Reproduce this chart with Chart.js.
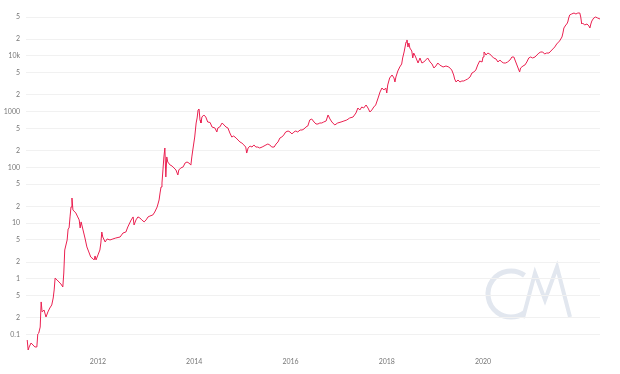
<!DOCTYPE html>
<html>
<head>
<meta charset="utf-8">
<script src="https://cdn.jsdelivr.net/npm/chart.js"></script>
<style>
    body { margin: 0; background: #fff; }
    #wrap { width: 620px; height: 374px; }
</style>
</head>
<body>
<div id="wrap"><canvas id="chart" width="620" height="374"></canvas></div>
<script>
// ===============================
// Data
// ===============================
const dates = [
    2010.53, 2010.55, 2010.57, 2010.61, 2010.65, 2010.69, 2010.73, 2010.75, 2010.77, 2010.80,
    2010.82, 2010.84, 2010.88, 2010.92, 2010.96, 2011.00, 2011.04, 2011.07, 2011.09, 2011.11,
    2011.15, 2011.19, 2011.23, 2011.27, 2011.29, 2011.31, 2011.36, 2011.38, 2011.40, 2011.42,
    2011.44, 2011.46, 2011.48, 2011.50, 2011.54, 2011.58, 2011.61, 2011.63, 2011.65, 2011.69,
    2011.73, 2011.77, 2011.81, 2011.85, 2011.90, 2011.92, 2011.94, 2011.96, 2012.00, 2012.04,
    2012.06, 2012.08, 2012.10, 2012.15, 2012.19, 2012.25, 2012.31, 2012.37, 2012.46, 2012.52,
    2012.58, 2012.62, 2012.69, 2012.73, 2012.75, 2012.79, 2012.83, 2012.87, 2012.91, 2012.96,
    2013.00, 2013.04, 2013.08, 2013.14, 2013.18, 2013.23, 2013.27, 2013.29, 2013.31, 2013.33,
    2013.35, 2013.37, 2013.39, 2013.41, 2013.43, 2013.45, 2013.50, 2013.54, 2013.58, 2013.62,
    2013.66, 2013.68, 2013.72, 2013.77, 2013.81, 2013.85, 2013.89, 2013.93, 2013.95, 2013.97,
    2014.01, 2014.04, 2014.06, 2014.08, 2014.10, 2014.12, 2014.14, 2014.16, 2014.20, 2014.24,
    2014.28, 2014.33, 2014.37, 2014.43, 2014.47, 2014.49, 2014.53, 2014.58, 2014.62, 2014.66,
    2014.70, 2014.74, 2014.78, 2014.82, 2014.87, 2014.91, 2014.95, 2014.99, 2015.03, 2015.07,
    2015.09, 2015.12, 2015.16, 2015.20, 2015.24, 2015.28, 2015.32, 2015.36, 2015.41, 2015.45,
    2015.49, 2015.53, 2015.57, 2015.61, 2015.66, 2015.70, 2015.74, 2015.78, 2015.82, 2015.86,
    2015.90, 2015.95, 2015.99, 2016.03, 2016.07, 2016.11, 2016.15, 2016.20, 2016.24, 2016.28,
    2016.32, 2016.36, 2016.40, 2016.44, 2016.49, 2016.53, 2016.57, 2016.61, 2016.65, 2016.69,
    2016.74, 2016.78, 2016.82, 2016.86, 2016.92, 2016.98, 2017.05, 2017.11, 2017.17, 2017.23,
    2017.30, 2017.36, 2017.40, 2017.44, 2017.48, 2017.52, 2017.57, 2017.61, 2017.65, 2017.69,
    2017.73, 2017.77, 2017.82, 2017.86, 2017.90, 2017.94, 2017.98, 2018.00, 2018.02, 2018.06,
    2018.11, 2018.15, 2018.17, 2018.19, 2018.23, 2018.27, 2018.31, 2018.33, 2018.36, 2018.38,
    2018.40, 2018.42, 2018.44, 2018.46, 2018.48, 2018.52, 2018.54, 2018.56, 2018.60, 2018.65,
    2018.69, 2018.73, 2018.77, 2018.81, 2018.85, 2018.90, 2018.94, 2018.98, 2019.02, 2019.06,
    2019.10, 2019.17, 2019.23, 2019.29, 2019.35, 2019.39, 2019.41, 2019.44, 2019.48, 2019.52,
    2019.56, 2019.60, 2019.64, 2019.68, 2019.73, 2019.77, 2019.81, 2019.85, 2019.89, 2019.93,
    2019.98, 2020.00, 2020.02, 2020.04, 2020.06, 2020.10, 2020.14, 2020.18, 2020.22, 2020.27,
    2020.31, 2020.35, 2020.39, 2020.43, 2020.47, 2020.51, 2020.56, 2020.60, 2020.64, 2020.68,
    2020.72, 2020.76, 2020.78, 2020.83, 2020.87, 2020.91, 2020.95, 2020.99, 2021.03, 2021.08,
    2021.12, 2021.16, 2021.20, 2021.24, 2021.28, 2021.32, 2021.37, 2021.41, 2021.45, 2021.49,
    2021.53, 2021.57, 2021.59, 2021.64, 2021.66, 2021.68, 2021.72, 2021.74, 2021.76, 2021.78,
    2021.80, 2021.84, 2021.89, 2021.93, 2021.97, 2022.01, 2022.03, 2022.05, 2022.07, 2022.11,
    2022.16, 2022.20, 2022.22, 2022.24, 2022.26, 2022.30, 2022.34, 2022.38, 2022.43
];

const prices = [
    0.0797, 0.0527, 0.0597, 0.0704, 0.0648, 0.0597, 0.0597, 0.102, 0.106, 0.136,
    0.384, 0.254, 0.275, 0.206, 0.254, 0.299, 0.339, 0.452, 0.630, 1.03,
    0.953, 0.877, 0.807, 0.713, 1.27, 3.29, 4.98, 7.84, 8.17, 12.9,
    19.5, 28.2, 17.2, 16.5, 15.2, 12.9, 11.4, 8.17, 10.5, 7.52,
    5.40, 3.73, 3.03, 2.46, 2.27, 2.18, 2.57, 2.18, 2.68, 3.29,
    4.39, 6.92, 5.63, 4.58, 5.19, 4.98, 5.19, 5.40, 5.63, 6.64,
    6.92, 8.51, 11.4, 12.9, 9.25, 11.4, 12.9, 12.4, 11.4, 10.5,
    11.4, 12.9, 13.4, 14.0, 15.8, 19.5, 26.0, 34.7, 44.5, 52.5,
    89.9, 154, 223, 67.3, 154, 125, 110, 106, 97.6, 89.9,
    73.1, 89.9, 97.6, 102, 120, 125, 120, 110, 154, 205,
    351, 627, 771, 1073, 1118, 710, 627, 803, 873, 803,
    653, 640, 531, 510, 432, 510, 531, 627, 577, 531,
    510, 415, 351, 366, 337, 310, 286, 274, 253, 232,
    181, 223, 242, 232, 253, 232, 232, 223, 232, 242,
    253, 263, 253, 232, 232, 263, 286, 337, 351, 382,
    432, 450, 432, 398, 432, 450, 432, 469, 469, 489,
    531, 554, 710, 740, 653, 601, 601, 627, 627, 653,
    681, 873, 740, 653, 577, 627, 653, 681, 710, 771,
    803, 948, 1165, 1073, 1214, 1165, 1319, 1165, 988, 1073,
    1214, 1319, 1762, 2258, 2664, 2453, 2664, 2167, 3016, 4027,
    4561, 4027, 3414, 4198, 5380, 6348, 7186, 9208, 11800, 14500,
    17800, 19400, 14500, 17100, 13900, 12300, 9208, 11300, 9595, 7489,
    9208, 7489, 7806, 8478, 9208, 7806, 7186, 6091, 6616, 7489,
    6895, 6348, 6616, 6348, 5608, 4561, 3865, 3414, 3708, 3414,
    3558, 3558, 3708, 3865, 4198, 4954, 5163, 5608, 6895, 8134,
    7806, 9595, 11800, 11300, 10420, 11300, 10860, 10000, 9208, 8835,
    7806, 8478, 7806, 7489, 7489, 7806, 8478, 9595, 9595, 7806,
    6348, 5163, 6091, 6616, 6895, 7806, 9208, 9595, 9208, 9595,
    10420, 11300, 11800, 11800, 10860, 11300, 11300, 12290, 13360, 14510,
    16420, 17840, 18590, 21940, 25880, 31820, 36020, 37540, 40740, 48080,
    54450, 56750, 59160, 56750, 59160, 59160, 50120, 37540, 39090, 36020,
    37540, 34560, 31820, 37540, 42460, 48080, 50120, 48080, 46130
];

// As-ticks van de grafiek
const xTicks = [2012, 2014, 2016, 2018, 2020];
const yTicks = [0.1, 0.2, 0.5, 1, 2, 5, 10, 20, 50, 100, 200, 500, 1000, 2000, 5000, 10000, 20000, 50000];
const yLabels = ["0.1", "2", "5", "1", "2", "5", "10", "2", "5", "100", "2", "5", "1000", "2", "5", "10k", "2", "5"];

// ===============================
// Watermerk (CM logo)
// ===============================
const watermerk = {
    id: "watermerk",
    beforeDraw(chart) {
        const ctx = chart.ctx;
        const r = chart.chartArea.right;
        const b = chart.chartArea.bottom;
        ctx.save();
        ctx.strokeStyle = "#e2e7ef";
        ctx.lineWidth = 5;
        ctx.beginPath();
        ctx.arc(r - 89, b - 58, 23, -0.3 * Math.PI, 0.3 * Math.PI, true);
        ctx.stroke();
        ctx.lineWidth = 4;
        ctx.lineJoin = "miter";
        ctx.beginPath();
        ctx.moveTo(r - 77, b - 34);
        ctx.lineTo(r - 65, b - 79);
        ctx.lineTo(r - 55, b - 52);
        ctx.lineTo(r - 43, b - 85);
        ctx.lineTo(r - 30, b - 35);
        ctx.stroke();
        ctx.restore();
    }
};

// ===============================
// Grafiek maken
// ===============================
const punten = dates.map((d, i) => ({ x: d, y: prices[i] }));

new Chart(document.getElementById("chart").getContext("2d"), {
    type: "line",
    data: {
        datasets: [{
            label: "Price",
            data: punten,
            borderColor: "rgb(234, 32, 80)",
            borderWidth: 1,
            pointRadius: 0,
            tension: 0,
            fill: false
        }]
    },
    options: {
        responsive: false,
        animation: false,
        layout: { padding: { top: 2, right: 20, left: 0, bottom: 0 } },
        plugins: {
            legend: { display: false },
            tooltip: { enabled: false }
        },
        scales: {
            x: {
                type: "linear",
                min: 2010.505,
                max: 2022.43,
                grid: { display: false, drawTicks: false },
                border: { display: false },
                afterBuildTicks: (scale) => { scale.ticks = xTicks.map(v => ({ value: v })); },
                afterFit: (scale) => {
                    scale.height = 22;
                    scale.paddingLeft = 0;
                    scale.paddingRight = 0;
                },
                ticks: {
                    color: "#777",
                    font: { size: 7, family: "Lato" },
                    maxRotation: 0,
                    padding: 6,
                    callback: (v) => String(v)
                }
            },
            y: {
                type: "logarithmic",
                min: 0.0485,
                max: 93200,
                grid: { color: "#f1f1f1", lineWidth: 1, drawTicks: false },
                border: { display: false },
                afterBuildTicks: (scale) => { scale.ticks = yTicks.map(v => ({ value: v })); },
                afterFit: (scale) => {
                    scale.width = 26;
                    scale.paddingTop = 0;
                    scale.paddingBottom = 0;
                },
                ticks: {
                    color: "#777",
                    font: { size: 7, family: "Lato" },
                    padding: 6,
                    callback: (v, i) => yLabels[i]
                }
            }
        }
    },
    plugins: [watermerk]
});
</script>
</body>
</html>
